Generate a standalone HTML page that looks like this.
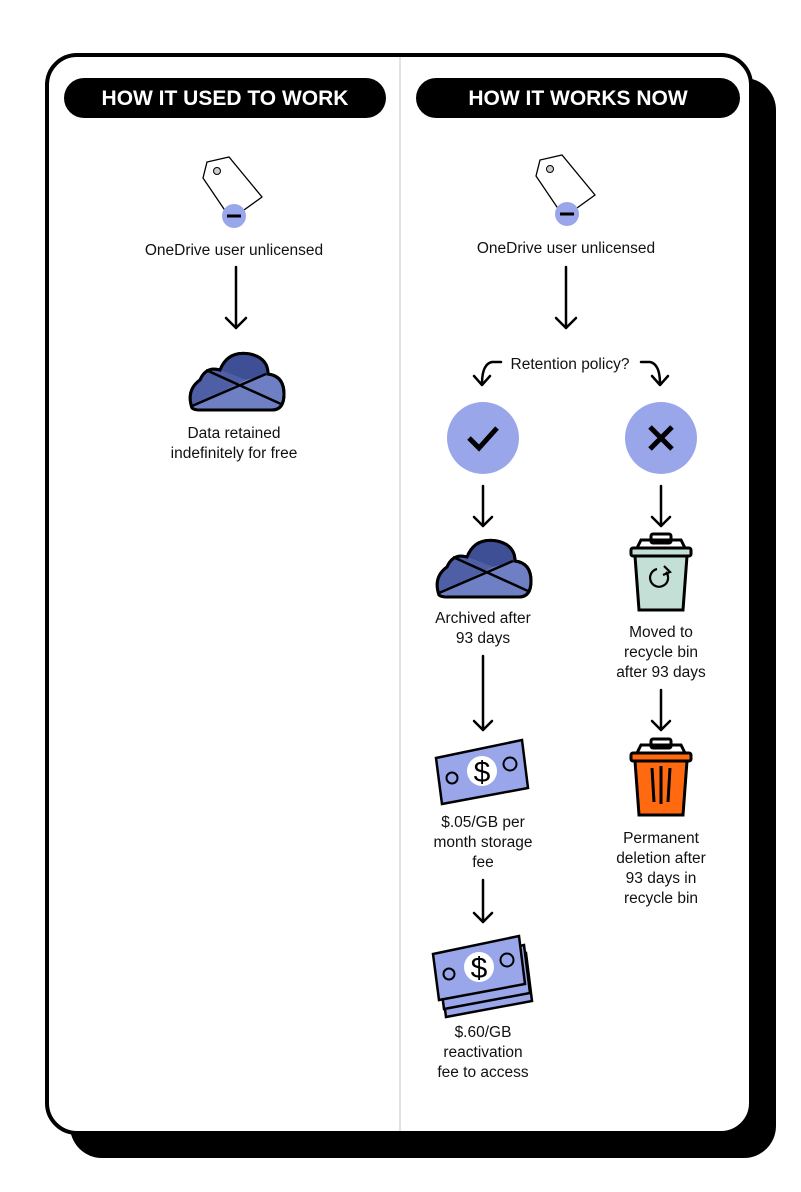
<!DOCTYPE html>
<html><head><meta charset="utf-8"><style>
html,body{margin:0;padding:0;background:#fff}
svg{display:block}
text{font-family:"Liberation Sans",sans-serif;fill:#111}
.t{font-size:15.5px;text-anchor:middle}
.h{font-size:21px;font-weight:bold;fill:#fff;text-anchor:middle}
.a{fill:none;stroke:#000;stroke-width:2.5;stroke-linecap:round;stroke-linejoin:round}
</style></head><body>
<svg width="801" height="1192" viewBox="0 0 801 1192" xmlns="http://www.w3.org/2000/svg">
<defs>
<g id="tag">
<path d="M-31,-38 L-27,-54 L-5,-59 L28,-19 L10,-6 Q0,4 -8,-4 Z" fill="#fff" stroke="#000" stroke-width="1.3"/>
<circle cx="-17" cy="-45" r="3.5" fill="#ccc" stroke="#000" stroke-width="1"/>
<circle cx="0" cy="0" r="12" fill="#9aa6ea"/>
<rect x="-7" y="-1.5" width="14" height="3" fill="#000"/>
</g>
<g id="cloud">
<path d="M-44,28 Q-50,10 -36,0 Q-30,-14 -16,-10 Q-8,-30 14,-26 Q32,-22 32,-6 Q48,-4 48,14 Q48,30 36,30 L-36,30 Q-42,30 -44,28 Z" fill="#6f7fc4" stroke="#000" stroke-width="3"/>
<path d="M-16,-10 Q-8,-30 14,-26 Q32,-22 32,-6 L10,0 Z" fill="#3f4f96"/>
<path d="M-44,28 Q-50,10 -36,0 Q-30,-14 -16,-10 L10,0 L-40,24 Z" fill="#4f5fa6"/>
<path d="M-44,28 Q-50,10 -36,0 Q-30,-14 -16,-10 Q-8,-30 14,-26 Q32,-22 32,-6 Q48,-4 48,14 Q48,30 36,30 L-36,30 Q-42,30 -44,28 Z" fill="none" stroke="#000" stroke-width="3"/>
<path d="M-30,-10 L45,24 M-44,26 L30,-6" stroke="#000" stroke-width="2.5"/>
</g>
<g id="money">
<path d="M-46,-12 L40,-30 L46,18 L-40,34 Z" fill="#9aa6ea" stroke="#000" stroke-width="2.5"/>
<circle cx="0" cy="1" r="15" fill="#fff"/>
<text x="0" y="12" style="font-size:30px;text-anchor:middle;fill:#000">$</text>
<circle cx="-30" cy="8" r="5.5" fill="none" stroke="#000" stroke-width="2"/>
<circle cx="28" cy="-6" r="6.5" fill="none" stroke="#000" stroke-width="2"/>
</g>
<g id="bin">
<path d="M-24,-26 L-20,-34 L20,-34 L24,-26" fill="none" stroke="#000" stroke-width="3"/>
<rect x="-10" y="-40" width="20" height="9" rx="2" fill="none" stroke="#000" stroke-width="3"/>
<rect x="-30" y="-26" width="60" height="8" rx="2" stroke="#000" stroke-width="3"/>
<path d="M-26,-18 L-22,36 L22,36 L26,-18 Z" stroke="#000" stroke-width="3"/>
</g>
</defs>
<rect x="70" y="78" width="706" height="1080" rx="32" fill="#000"/>
<rect x="47" y="55" width="704" height="1078" rx="30" fill="#fff" stroke="#000" stroke-width="4"/>
<line x1="400" y1="57" x2="400" y2="1131" stroke="#e2e2e2" stroke-width="2"/>
<rect x="64" y="78" width="322" height="40" rx="20" fill="#000"/>
<text class="h" x="225" y="105">HOW IT USED TO WORK</text>
<rect x="416" y="78" width="324" height="40" rx="20" fill="#000"/>
<text class="h" x="578" y="105">HOW IT WORKS NOW</text>

<use href="#tag" x="234" y="216"/>
<text class="t" x="234" y="255">OneDrive user unlicensed</text>
<path class="a" d="M236,267 V328 M226,318 L236,328 L246,318"/>
<use href="#cloud" x="236" y="380"/>
<text class="t" x="234" y="438">Data retained</text>
<text class="t" x="234" y="458">indefinitely for free</text>

<use href="#tag" x="567" y="214"/>
<text class="t" x="566" y="253">OneDrive user unlicensed</text>
<path class="a" d="M566,267 V328 M556,318 L566,328 L576,318"/>
<text class="t" x="570" y="369">Retention policy?</text>
<path class="a" d="M501,362 H492 Q482,364 482,384 M474,376 L482,385 L490,376"/>
<path class="a" d="M641,362 H650 Q660,364 660,384 M652,376 L660,385 L668,376"/>
<circle cx="483" cy="438" r="36" fill="#9aa6ea"/>
<path d="M469,438 L479,448 L497,428" fill="none" stroke="#000" stroke-width="5"/>
<circle cx="661" cy="438" r="36" fill="#9aa6ea"/>
<path d="M650,427 L672,449 M672,427 L650,449" stroke="#000" stroke-width="5"/>
<path class="a" d="M483,486 V526 M474,517 L483,526 L492,517"/>
<path class="a" d="M661,486 V526 M652,517 L661,526 L670,517"/>
<use href="#cloud" x="483" y="567"/>
<use href="#bin" x="661" y="574" fill="#c4e0d6"/>
<path d="M666,572 A9,9 0 1 1 657,569" fill="none" stroke="#000" stroke-width="2.2"/>
<path d="M664,566 L670,572 L663,575" fill="none" stroke="#000" stroke-width="2.2"/>
<text class="t" x="483" y="623">Archived after</text>
<text class="t" x="483" y="643">93 days</text>
<text class="t" x="661" y="637">Moved to</text>
<text class="t" x="661" y="657">recycle bin</text>
<text class="t" x="661" y="677">after 93 days</text>
<path class="a" d="M483,656 V730 M474,721 L483,730 L492,721"/>
<path class="a" d="M661,690 V730 M652,721 L661,730 L670,721"/>
<use href="#money" x="482" y="770"/>
<use href="#bin" x="661" y="779" fill="#ff6a10"/>
<path d="M652,768 L654,802 M661,766 V804 M670,768 L668,802" stroke="#000" stroke-width="3"/>
<text class="t" x="483" y="827">$.05/GB per</text>
<text class="t" x="483" y="847">month storage</text>
<text class="t" x="483" y="867">fee</text>
<text class="t" x="661" y="843">Permanent</text>
<text class="t" x="661" y="863">deletion after</text>
<text class="t" x="661" y="883">93 days in</text>
<text class="t" x="661" y="903">recycle bin</text>
<path class="a" d="M483,880 V922 M474,913 L483,922 L492,913"/>
<path d="M-46,-12 L40,-30 L46,18 L-40,34 Z" transform="translate(486,983)" fill="#9aa6ea" stroke="#000" stroke-width="2.5"/>
<path d="M-46,-12 L40,-30 L46,18 L-40,34 Z" transform="translate(484,975)" fill="#9aa6ea" stroke="#000" stroke-width="2.5"/>
<use href="#money" x="479" y="966"/>
<text class="t" x="483" y="1037">$.60/GB</text>
<text class="t" x="483" y="1057">reactivation</text>
<text class="t" x="483" y="1077">fee to access</text>
</svg>
</body></html>
